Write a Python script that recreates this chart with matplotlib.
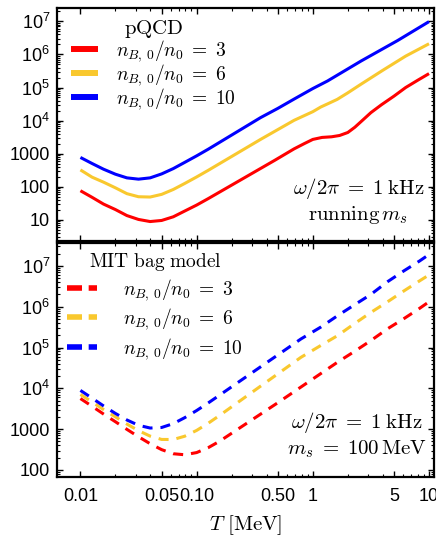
import numpy as np
import matplotlib
matplotlib.use("Agg")
import matplotlib.pyplot as plt
from matplotlib.font_manager import FontProperties
from matplotlib.ticker import FixedLocator, FixedFormatter, FuncFormatter, LogLocator, NullFormatter

# tick labels in a sans face, everything else in Computer Modern math
plt.rcParams["font.family"] = ["Liberation Sans", "DejaVu Sans"]
plt.rcParams["mathtext.fontset"] = "custom"
plt.rcParams["mathtext.rm"] = "Liberation Sans"
plt.rcParams["mathtext.it"] = "Liberation Sans:italic"
plt.rcParams["mathtext.bf"] = "Liberation Sans:bold"

# ---- data (T in MeV) ----
labels = [r"$n_{B,\,0}/n_0 \;=\; 3$", r"$n_{B,\,0}/n_0 \;=\; 6$", r"$n_{B,\,0}/n_0 \;=\; 10$"]
colors = ["#FF0000", "#F9C82E", "#0000FF"]

# pQCD, running m_s
pqcd_T3 = [0.01, 0.0126, 0.0158, 0.020, 0.0251, 0.0316, 0.0398, 0.050, 0.063, 0.079,
           0.10, 0.126, 0.47, 0.69, 0.85, 1.0, 1.2, 1.45, 1.7, 2.0, 2.3, 2.7, 3.16,
           3.9, 5.0, 6.3, 8.0, 10]
pqcd_Q3 = [76, 48, 30, 20.5, 13.5, 10.3, 8.9, 9.6, 12.4, 18.5,
           28, 44, 630, 1400, 2040, 2700, 3100, 3240, 3550, 4370, 6300, 10500, 17400,
           30200, 55000, 100000, 166000, 263000]

pqcd_T6 = [0.01, 0.0126, 0.0158, 0.020, 0.0251, 0.0316, 0.0398, 0.050, 0.063, 0.079,
           0.10, 0.126, 0.355, 0.69, 1.0, 1.17, 1.35, 1.62, 2.0, 2.6, 4.0, 6.3, 10]
pqcd_Q6 = [324, 195, 138, 93, 62, 50, 49, 59, 83, 126,
           198, 315, 2700, 10200, 18600, 25700, 32400, 43700, 69000, 126000, 331000,
           890000, 2.1e6]

pqcd_T10 = [0.01, 0.0126, 0.0158, 0.020, 0.0251, 0.0316, 0.0398, 0.050, 0.063, 0.079,
            0.10, 0.126, 0.355, 0.5, 0.7, 1.0, 1.34, 2.6, 5.37, 10]
pqcd_Q10 = [770, 505, 340, 240, 186, 170, 186, 245, 355, 547,
            860, 1370, 12300, 23400, 46000, 93000, 158000, 631000, 2.63e6, 9.8e6]

# MIT bag model, m_s = 100 MeV
mit_T3 = [0.01, 0.0126, 0.0158, 0.020, 0.0251, 0.0316, 0.0398, 0.050, 0.063, 0.079,
          0.10, 0.126, 0.158, 0.5, 1.63, 2.27, 3.16, 4.4, 6.1, 8.3, 10]
mit_Q3 = [5620, 3630, 2350, 1520, 990, 652, 440, 315, 250, 236,
          267, 353, 508, 4450, 43600, 79400, 148000, 288000, 513000, 912000, 1.32e6]

mit_T6 = [0.01, 0.0126, 0.0158, 0.020, 0.0251, 0.0316, 0.0398, 0.050, 0.063, 0.079,
          0.10, 0.126, 0.158, 0.79, 1.17, 1.63, 2.27, 3.16, 4.4, 6.1, 8.3, 10]
mit_Q6 = [7080, 4630, 3030, 2000, 1334, 920, 675, 560, 558, 672,
          932, 1400, 2180, 57500, 112000, 195000, 380000, 724000, 1.32e6, 2.45e6,
          4.3e6, 6.0e6]

mit_T10 = [0.01, 0.0126, 0.0158, 0.020, 0.0251, 0.0316, 0.0398, 0.050, 0.063, 0.079,
           0.10, 0.126, 0.158, 0.79, 1.17, 1.63, 2.27, 3.16, 4.4, 6.1, 8.3, 10]
mit_Q10 = [8900, 5740, 3720, 2430, 1680, 1245, 1066, 1100, 1366, 1913,
           2860, 4400, 6850, 162000, 316000, 600000, 1.1e6, 2.0e6, 4.1e6, 7.6e6,
           1.32e7, 1.9e7]

x_ticks = [0.01, 0.05, 0.1, 0.5, 1, 5, 10]
x_ticklabels = ["0.01", "0.05", "0.10", "0.50", "1", "5", "10"]
x_minor = [0.02, 0.03, 0.04, 0.06, 0.07, 0.08, 0.09, 0.2, 0.3, 0.4, 0.6, 0.7, 0.8, 0.9,
           2, 3, 4, 6, 7, 8, 9]

pqcd = [(pqcd_T3, pqcd_Q3), (pqcd_T6, pqcd_Q6), (pqcd_T10, pqcd_Q10)]
mit = [(mit_T3, mit_Q3), (mit_T6, mit_Q6), (mit_T10, mit_Q10)]


def y_fmt(v, pos):
    e = int(round(np.log10(v)))
    if e <= 3:
        return str(10 ** e)
    return r"$10^{%d}$" % e


def style_axes(ax, ylim):
    ax.set_xscale("log")
    ax.set_yscale("log")
    ax.set_xlim(0.0063, 11.0)
    ax.set_ylim(*ylim)
    ax.xaxis.set_major_locator(FixedLocator(x_ticks))
    ax.xaxis.set_minor_locator(FixedLocator(x_minor))
    ax.xaxis.set_major_formatter(FixedFormatter(x_ticklabels))
    ax.xaxis.set_minor_formatter(NullFormatter())
    ax.yaxis.set_major_locator(LogLocator(base=10, numticks=20))
    ax.yaxis.set_minor_locator(LogLocator(base=10, subs=range(2, 10), numticks=20))
    ax.yaxis.set_major_formatter(FuncFormatter(y_fmt))
    ax.yaxis.set_minor_formatter(NullFormatter())
    ax.tick_params(which="both", direction="in", top=True, right=True, labelsize=13)
    ax.tick_params(which="major", length=4.5, width=1.0)
    ax.tick_params(which="minor", length=2.5, width=0.8)
    ax.tick_params(axis="y", pad=5)
    ax.tick_params(axis="x", pad=8)
    for s in ax.spines.values():
        s.set_linewidth(1.6)


cm15 = FontProperties(size=15, math_fontfamily="cm")
cm14 = FontProperties(size=14, math_fontfamily="cm")

fig = plt.figure(figsize=(4.36, 5.44), dpi=100)
ax_top = fig.add_axes([0.131, 0.557, 0.864, 0.428])
ax_bot = fig.add_axes([0.131, 0.123, 0.864, 0.430], sharex=ax_top)

style_axes(ax_top, (2.3, 2.5e7))
style_axes(ax_bot, (67, 3.6e7))
ax_top.tick_params(labelbottom=False)

# top panel: pQCD
for (T, Q), c, lab in zip(pqcd, colors, labels):
    ax_top.plot(T, Q, color=c, lw=2.2, label=lab, solid_capstyle="butt",
                solid_joinstyle="round")

leg = ax_top.legend(loc="upper left", bbox_to_anchor=(0.0, 1.018), frameon=False,
                    prop=cm14, title=r"$\mathrm{pQCD}$", title_fontproperties=cm15,
                    handlelength=1.4, handletextpad=0.95, labelspacing=-0.08,
                    borderaxespad=0.3)
for h in leg.legend_handles:
    h.set_linewidth(4.3)

ax_top.text(0.80, 0.172, r"$\omega/2\pi \;=\; 1\;\mathrm{kHz}$" + "\n" + r"$\mathrm{running}\,m_s$",
            transform=ax_top.transAxes, ha="center", va="center", multialignment="center",
            fontproperties=cm15, linespacing=1.2)

# bottom panel: MIT bag model
for (T, Q), c, lab in zip(mit, colors, labels):
    ax_bot.plot(T, Q, color=c, lw=2.2, label=lab, linestyle=(0, (3.3, 2.6)),
                dash_capstyle="butt")

leg2 = ax_bot.legend(loc="upper left", bbox_to_anchor=(-0.01, 1.025), frameon=False,
                     prop=cm14, title=r"$\mathrm{MIT\ bag\ model}$", title_fontproperties=cm14,
                     handlelength=1.55, handletextpad=1.35, labelspacing=0.2,
                     borderaxespad=0.3)
for h in leg2.legend_handles:
    h.set_linewidth(4.0)
    h.set_linestyle((0, (2.7, 1.2)))

ax_bot.text(0.796, 0.18, r"$\omega/2\pi \;=\; 1\;\mathrm{kHz}$" + "\n" + r"$m_s \;=\; 100\,\mathrm{MeV}$",
            transform=ax_bot.transAxes, ha="center", va="center", multialignment="center",
            fontproperties=cm15, linespacing=1.2)

ax_bot.set_xlabel(r"$T\ [\mathrm{MeV}]$", fontproperties=cm15, labelpad=6)

fig.savefig("out.png", dpi=100)
